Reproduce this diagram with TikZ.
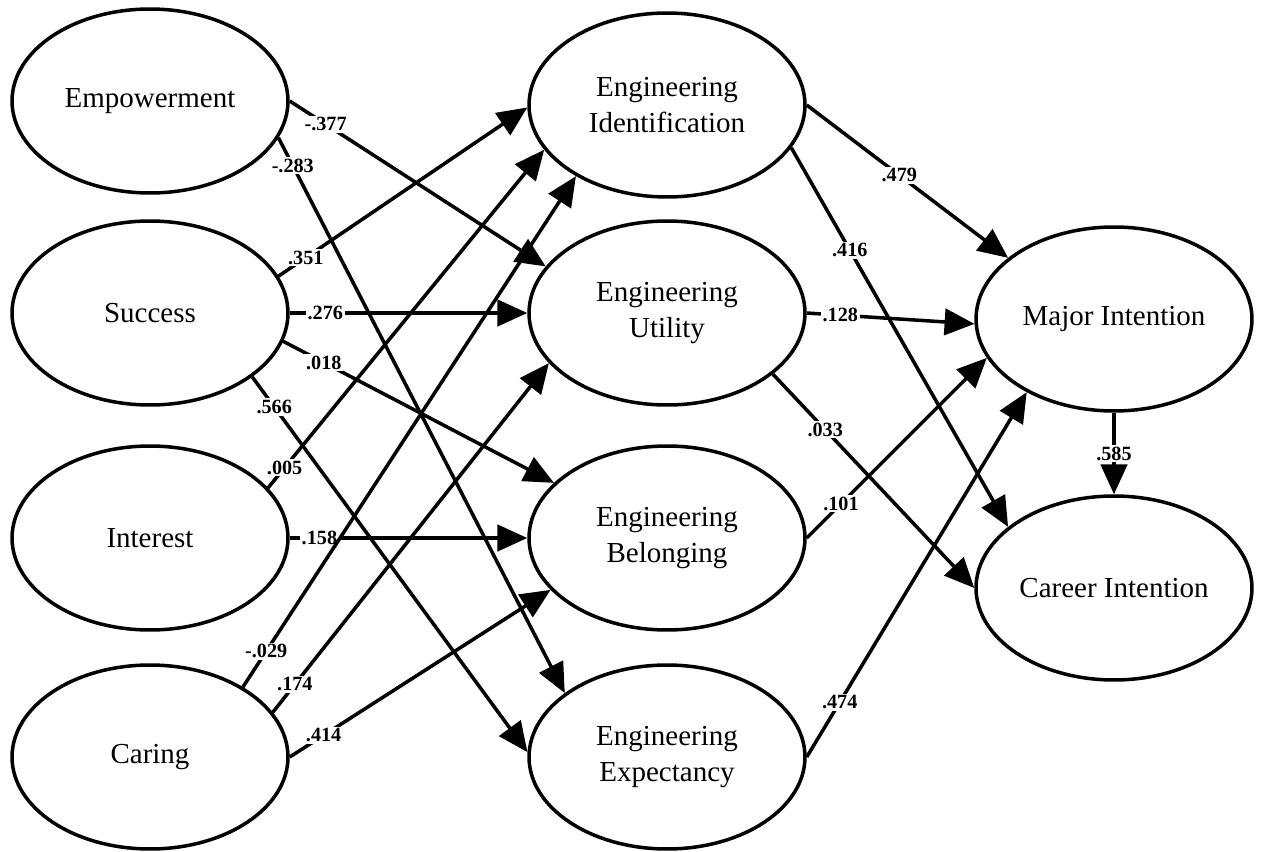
\documentclass[tikz,border=0pt]{standalone}
\usepackage{fontspec}
\setmainfont{Liberation Serif}
\usetikzlibrary{arrows.meta,shapes.geometric}

\tikzset{
  latent/.style={ellipse, draw, line width=2pt, minimum width=5.52cm, minimum height=3.68cm,
    inner sep=0pt, align=center, font=\fontsize{16.5}{20.5}\selectfont},
  effect/.style={line width=2pt, -{Triangle[length=17pt,width=15pt]}},
  coef/.style={fill=white, inner sep=1pt, font=\fontsize{11.5}{12}\selectfont\bfseries}
}

\begin{document}
\begin{tikzpicture}[x=0.02cm, y=-0.02cm]
        \useasboundingbox (0,0) rectangle (1262,852);

        % predictors
        \node[latent] (empow) at (150, 101) {Empowerment};
        \node[latent] (success) at (150, 313) {Success};
        \node[latent] (interest) at (150, 538) {Interest};
        \node[latent] (caring) at (150, 757) {Caring};

        % engineering outcomes
        \node[latent] (ident) at (667, 105) {Engineering\\Identification};
        \node[latent] (utility) at (667, 313) {Engineering\\Utility};
        \node[latent] (belong) at (667, 538) {Engineering\\Belonging};
        \node[latent] (expect) at (667, 757) {Engineering\\Expectancy};

        % intentions
        \node[latent] (major) at (1114, 319) {Major Intention};
        \node[latent] (career) at (1114, 588) {Career Intention};

        \draw[effect] (empow.0) -- node[coef, pos=.14] {-.377} (utility.159);
        \draw[effect] (empow.-16) -- node[coef, pos=.05] {-.283} (expect.148);
        \draw[effect] (success.16) -- node[coef, pos=.11] {.351} (ident.181);
        \draw[effect] (success.0) -- node[coef, pos=.15] {.276} (utility.180);
        \draw[effect] (success.-12) -- node[coef, pos=.15] {.018} (belong.154);
        \draw[effect] (success.-32) -- node[coef, pos=.08] {.566} (expect.178);
        \draw[effect] (interest.23) -- node[coef, pos=.06] {.005} (ident.-160);
        \draw[effect] (interest.0) -- node[coef, pos=.125] {.158} (belong.180);
        \draw[effect] (caring.37) -- node[coef, pos=.07] {-.029} (ident.-142);
        \draw[effect] (caring.20) -- node[coef, pos=.08] {.174} (utility.-157);
        \draw[effect] (caring.0) -- node[coef, pos=.13] {.414} (belong.-156);

        \draw[effect] (ident.0) -- node[coef, pos=.46] {.479} (major.150);
        \draw[effect] (ident.-19) -- node[coef, pos=.27] {.416} (career.150);
        \draw[effect] (utility.0) -- node[coef, pos=.2] {.128} (major.182);
        \draw[effect] (utility.-30) -- node[coef, pos=.26] {.033} (career.180);
        \draw[effect] (belong.0) -- node[coef, pos=.19] {.101} (major.-163);
        \draw[effect] (expect.0) -- node[coef, pos=.15] {.474} (major.-140);
        \draw[effect] (major) -- node[coef, pos=.5] {.585} (career);
\end{tikzpicture}
\end{document}
